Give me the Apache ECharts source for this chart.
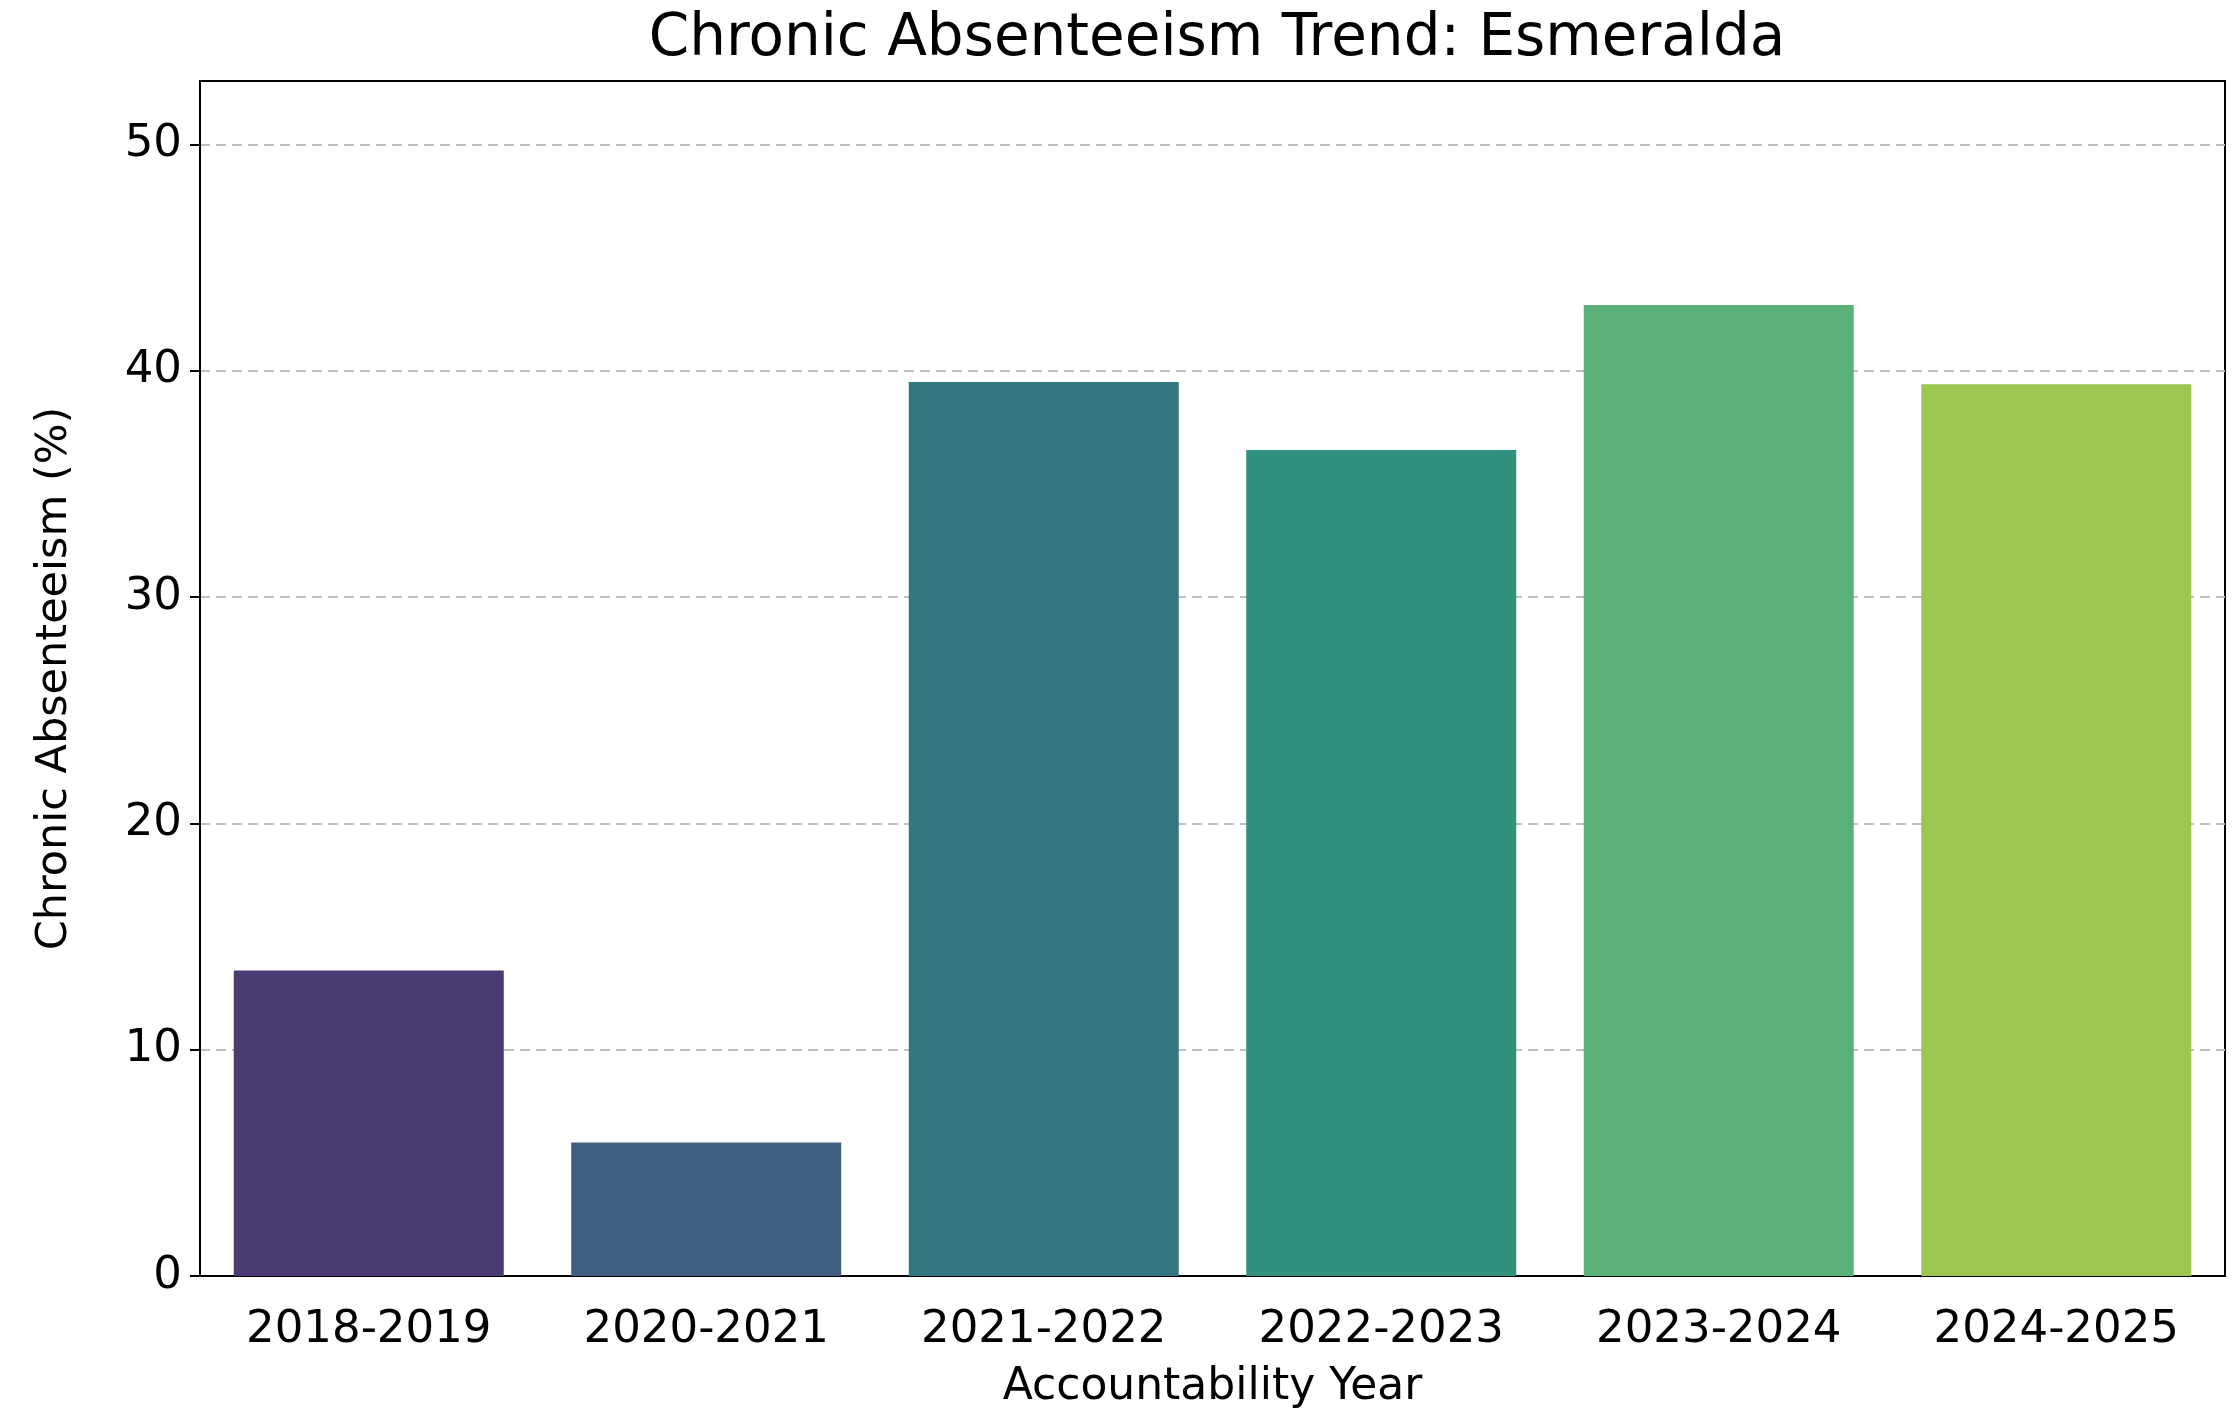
<!DOCTYPE html>
<html style="height: 100%">
    <head>
        <meta charset="utf-8">
    </head>
    <body style="height: 100%; margin: 0; background: #fff">
        <div id="container" style="height: 100%"></div>

        <script type="text/javascript" src="https://cdn.jsdelivr.net/npm/echarts@6/dist/echarts.min.js"></script>

        <script type="text/javascript">
var years = ['2018-2019', '2020-2021', '2021-2022', '2022-2023', '2023-2024', '2024-2025'];
var absenteeism = [13.5, 5.9, 39.5, 36.5, 42.9, 39.4];
var barColors = ['#4a3b73', '#425d82', '#357780', '#30917f', '#59b177', '#9bc64f'];
var yTicks = [0, 10, 20, 30, 40, 50];

var dom = document.getElementById("container");
var myChart = echarts.init(dom);
var font = 'DejaVu Sans';

var option = {
    backgroundColor: '#fff',
    title: {
        text: 'Chronic Absenteeism Trend: Esmeralda',
        left: 1212,
        textAlign: 'center',
        top: 6,
        textStyle: { fontFamily: font, fontSize: 58, fontWeight: 'normal', color: '#000' }
    },
    grid: {
        left: 200, right: 10, top: 81, bottom: 141,
        show: true, borderColor: '#000', borderWidth: 2, backgroundColor: 'transparent'
    },
    xAxis: {
        type: 'category',
        data: years,
        name: 'Accountability Year',
        nameLocation: 'middle',
        nameGap: 90,
        nameTextStyle: { fontFamily: font, fontSize: 44, color: '#000' },
        axisLine: { lineStyle: { color: '#000', width: 2 } },
        axisTick: { alignWithLabel: true, length: 10, lineStyle: { color: '#000', width: 2 } },
        axisLabel: { fontFamily: font, fontSize: 45, color: '#000', margin: 32 }
    },
    yAxis: {
        type: 'value',
        min: 0,
        max: 52.8,
        interval: 10,
        name: 'Chronic Absenteeism (%)',
        nameLocation: 'middle',
        nameGap: 124,
        nameTextStyle: { fontFamily: font, fontSize: 43, color: '#000' },
        axisLine: { show: true, lineStyle: { color: '#000', width: 2 } },
        axisTick: { show: true, length: 10, lineStyle: { color: '#000', width: 2 } },
        axisLabel: {
            fontFamily: font, fontSize: 45, color: '#000', margin: 18,
            showMaxLabel: false,
            formatter: function (v) { return yTicks.indexOf(v) >= 0 ? String(v) : ''; }
        },
        splitLine: { show: true, showMaxLine: false, lineStyle: { color: '#c0c0c0', width: 2, type: [10, 6] } }
    },
    series: [{
        type: 'bar',
        barCategoryGap: '20%',
        data: absenteeism.map(function (v, i) {
            return { value: v, itemStyle: { color: barColors[i] } };
        }),
        z: 1
    }]
};

myChart.setOption(option);
        </script>
    </body>
</html>
